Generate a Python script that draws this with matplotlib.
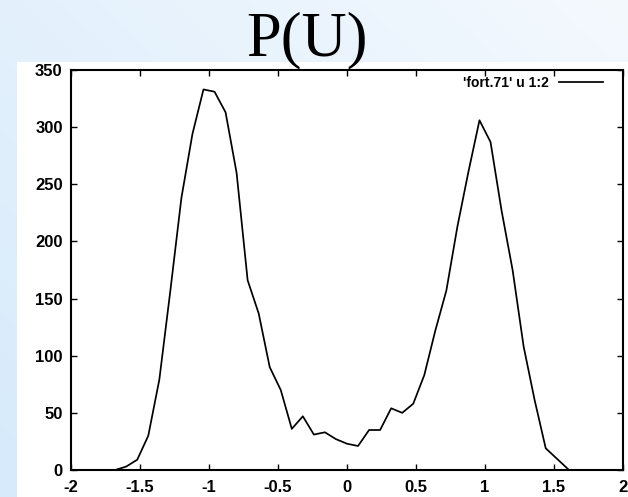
import numpy as np
import matplotlib
matplotlib.use("Agg")
import matplotlib.pyplot as plt
from matplotlib.patches import Rectangle

# Histogram of U (bin centres) and counts
u_values = [-1.68, -1.60, -1.52, -1.44, -1.36, -1.28, -1.20, -1.12, -1.04, -0.96,
            -0.88, -0.80, -0.72, -0.64, -0.56, -0.48, -0.40, -0.32, -0.24, -0.16,
            -0.08, 0.00, 0.08, 0.16, 0.24, 0.32, 0.40, 0.48, 0.56, 0.64,
            0.72, 0.80, 0.88, 0.96, 1.04, 1.12, 1.20, 1.28, 1.36, 1.44,
            1.52, 1.60]
counts = [0, 3, 9, 30, 79, 157, 238, 294, 333, 331,
          313, 260, 166, 137, 90, 70, 36, 47, 31, 33,
          27, 23, 21, 35, 35, 54, 50, 58, 83, 122,
          157, 213, 261, 306, 287, 227, 175, 108, 61, 19,
          10, 1]

x_ticks = [-2, -1.5, -1, -0.5, 0, 0.5, 1, 1.5, 2]
x_tick_labels = ["-2", "-1.5", "-1", "-0.5", "0", "0.5", "1", "1.5", "2"]
y_ticks = [0, 50, 100, 150, 200, 250, 300, 350]
y_tick_labels = ["0", "50", "100", "150", "200", "250", "300", "350"]
title_text = "P(U)"
series_label = "'fort.71' u 1:2"

W, H = 628, 497
fig = plt.figure(figsize=(W / 100, H / 100), dpi=100)

# Slide background: soft blue gradient with a white panel
bg = fig.add_axes([0, 0, 1, 1], zorder=-10)
bg.axis("off")
gx = np.linspace(0, 1, W)
gy = np.linspace(0, 1, H)
GX, GY = np.meshgrid(gx, gy)
t = np.clip(0.55 * (1 - GX) + 0.45 * GY, 0, 1)
light = np.array([244, 249, 254]) / 255
dark = np.array([214, 234, 251]) / 255
img = light + (dark - light) * t[..., None]
bg.imshow(img, extent=[0, 1, 0, 1], aspect="auto", origin="upper")
bg.set_xlim(0, 1)
bg.set_ylim(0, 1)
bg.add_patch(Rectangle((17 / W, 0), 1, (H - 62) / H, transform=bg.transAxes,
                       facecolor="white", edgecolor="none"))

fig.text(307 / W, (H - 55) / H, title_text, ha="center", va="baseline",
         family=["Liberation Serif", "DejaVu Serif"], size=45, color="black")

ax = fig.add_axes([71 / W, 27 / H, 552 / W, 400 / H])
ax.set_facecolor("white")
ax.plot(u_values, counts, color="black", lw=1.25, label=series_label)
ax.set_xlim(-2, 2)
ax.set_ylim(0, 350)

ax.set_xticks(x_ticks)
ax.set_xticklabels(x_tick_labels)
ax.set_yticks(y_ticks)
ax.set_yticklabels(y_tick_labels)
for spine in ax.spines.values():
    spine.set_linewidth(1.5)
ax.tick_params(direction="in", top=True, right=True, length=4.5, width=1.0,
               labelsize=12)
ax.tick_params(axis="y", pad=6.0)
ax.tick_params(axis="x", pad=7.0)
for lab in ax.get_xticklabels() + ax.get_yticklabels():
    lab.set_fontweight("bold")
    lab.set_family(["Liberation Sans", "DejaVu Sans"])

ax.legend(loc="upper right", bbox_to_anchor=(0.974, 1.0), borderaxespad=0,
          frameon=False, markerfirst=False, handlelength=3.2, handletextpad=0.72,
          prop=dict(size=10, weight="bold", family=["Liberation Sans Narrow", "Liberation Sans"]))

fig.savefig("out.png", dpi=100)
